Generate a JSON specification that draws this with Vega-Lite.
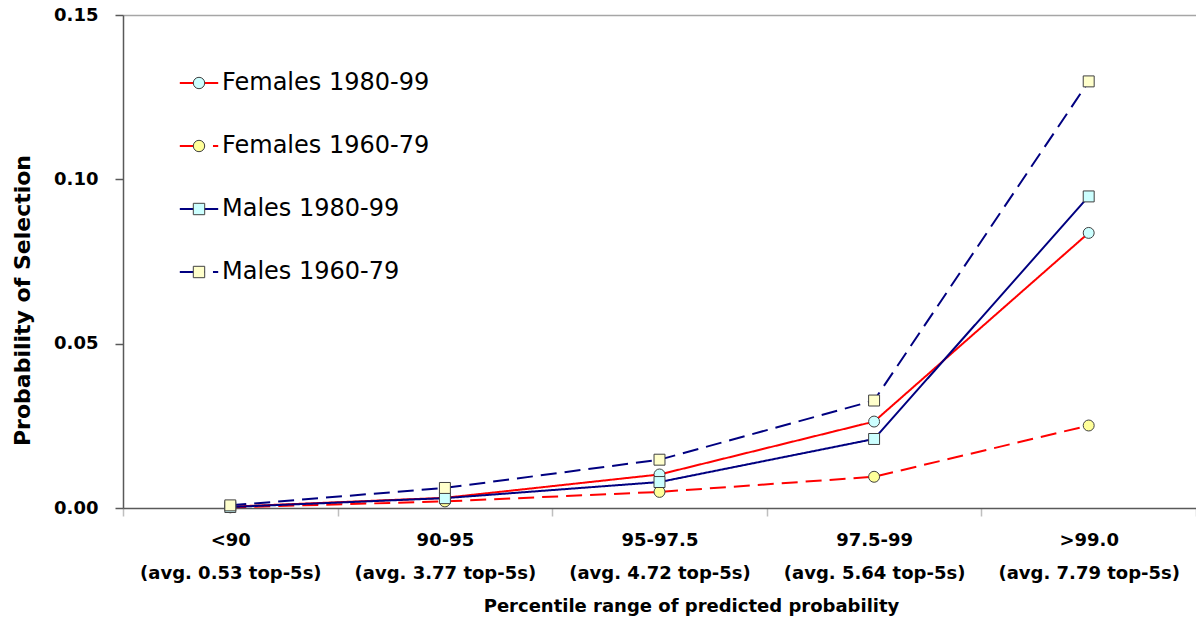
{
  "$schema": "https://vega.github.io/schema/vega-lite/v6.json",
  "autosize": {"type": "none"},
  "padding": {"left": 123, "top": 15, "right": 0, "bottom": 117},
  "width": 1073,
  "height": 493,
  "background": "white",
  "config": {"view": {"stroke": null}, "font": "DejaVu Sans"},
  "data": {
    "values": [
      {"range": "<90|(avg. 0.53 top-5s)", "series": "Females 1980-99", "p": 0.0004},
      {"range": "90-95|(avg. 3.77 top-5s)", "series": "Females 1980-99", "p": 0.0031},
      {"range": "95-97.5|(avg. 4.72 top-5s)", "series": "Females 1980-99", "p": 0.0102},
      {"range": "97.5-99|(avg. 5.64 top-5s)", "series": "Females 1980-99", "p": 0.0263},
      {"range": ">99.0|(avg. 7.79 top-5s)", "series": "Females 1980-99", "p": 0.0837},
      {"range": "<90|(avg. 0.53 top-5s)", "series": "Females 1960-79", "p": 0.0002},
      {"range": "90-95|(avg. 3.77 top-5s)", "series": "Females 1960-79", "p": 0.002},
      {"range": "95-97.5|(avg. 4.72 top-5s)", "series": "Females 1960-79", "p": 0.0049},
      {"range": "97.5-99|(avg. 5.64 top-5s)", "series": "Females 1960-79", "p": 0.0095},
      {"range": ">99.0|(avg. 7.79 top-5s)", "series": "Females 1960-79", "p": 0.0251},
      {"range": "<90|(avg. 0.53 top-5s)", "series": "Males 1980-99", "p": 0.0003},
      {"range": "90-95|(avg. 3.77 top-5s)", "series": "Males 1980-99", "p": 0.003},
      {"range": "95-97.5|(avg. 4.72 top-5s)", "series": "Males 1980-99", "p": 0.0079},
      {"range": "97.5-99|(avg. 5.64 top-5s)", "series": "Males 1980-99", "p": 0.021},
      {"range": ">99.0|(avg. 7.79 top-5s)", "series": "Males 1980-99", "p": 0.0948},
      {"range": "<90|(avg. 0.53 top-5s)", "series": "Males 1960-79", "p": 0.0008},
      {"range": "90-95|(avg. 3.77 top-5s)", "series": "Males 1960-79", "p": 0.0061},
      {"range": "95-97.5|(avg. 4.72 top-5s)", "series": "Males 1960-79", "p": 0.0147},
      {"range": "97.5-99|(avg. 5.64 top-5s)", "series": "Males 1960-79", "p": 0.0327},
      {"range": ">99.0|(avg. 7.79 top-5s)", "series": "Males 1960-79", "p": 0.1298}
    ]
  },
  "encoding": {
    "x": {
      "field": "range",
      "type": "nominal",
      "scale": {
        "type": "band",
        "paddingInner": 0,
        "paddingOuter": 0,
        "domain": ["<90|(avg. 0.53 top-5s)", "90-95|(avg. 3.77 top-5s)", "95-97.5|(avg. 4.72 top-5s)", "97.5-99|(avg. 5.64 top-5s)", ">99.0|(avg. 7.79 top-5s)"]
      },
      "axis": {
        "orient": "bottom",
        "tickBand": "extent",
        "tickSize": 8,
        "tickColor": "#BFBFBF",
        "tickWidth": 1.5,
        "domainColor": "#595959",
        "domainWidth": 1.5,
        "labelAngle": 0,
        "labelLimit": 0,
        "labelExpr": "split(datum.label, '|')",
        "labelFont": "DejaVu Sans",
        "labelFontWeight": "bold",
        "labelFontSize": 18,
        "labelColor": "#000000",
        "labelLineHeight": 33,
        "labelPadding": 15,
        "title": "Percentile range of predicted probability",
        "titleFont": "DejaVu Sans",
        "titleFontWeight": "bold",
        "titleFontSize": 18,
        "titleColor": "#000000",
        "titleX": 568,
        "titleY": 98,
        "titleBaseline": "middle",
        "titleAlign": "center"
      }
    },
    "y": {
      "field": "p",
      "type": "quantitative",
      "scale": {"domain": [0, 0.15], "nice": false, "zero": true},
      "axis": {
        "values": [0, 0.05, 0.1, 0.15],
        "format": ".2f",
        "tickSize": 8,
        "tickColor": "#595959",
        "tickWidth": 1.5,
        "domainColor": "#595959",
        "domainWidth": 1.5,
        "grid": true,
        "gridColor": "#A6A6A6",
        "gridWidth": 1.5,
        "gridOpacity": {"condition": {"test": "datum.value > 0.14", "value": 1}, "value": 0},
        "labelFont": "DejaVu Sans",
        "labelFontWeight": "bold",
        "labelFontSize": 18,
        "labelColor": "#000000",
        "labelPadding": 17,
        "title": "Probability of Selection",
        "titleFont": "DejaVu Sans",
        "titleFontWeight": "bold",
        "titleFontSize": 22,
        "titleColor": "#000000",
        "titleX": -101,
        "titleY": 285,
        "titleAngle": -90,
        "titleBaseline": "middle",
        "titleAlign": "center"
      }
    }
  },
  "layer": [
    {
      "mark": {"type": "line", "strokeWidth": 2},
      "encoding": {
        "stroke": {
          "field": "series",
          "type": "nominal",
          "scale": {
            "domain": ["Females 1980-99", "Females 1960-79", "Males 1980-99", "Males 1960-79"],
            "range": ["#FF0000", "#FF0000", "#000080", "#000080"]
          },
          "legend": {
            "orient": "none",
            "zindex": 1,
            "legendX": 64,
            "legendY": 56,
            "title": null,
            "symbolType": "M-3.2,0H-1.67M-1.67,0H3.2",
            "symbolSize": 144,
            "symbolStrokeWidth": 2,
            "labelFont": "DejaVu Sans",
            "labelFontSize": 24,
            "labelColor": "#000000",
            "labelLimit": 0,
            "labelOffset": 11,
            "rowPadding": 39,
            "padding": 0
          }
        },
        "strokeDash": {
          "field": "series",
          "type": "nominal",
          "scale": {
            "domain": ["Females 1980-99", "Females 1960-79", "Males 1980-99", "Males 1960-79"],
            "range": [[1, 0], [16, 8], [1, 0], [16, 8]]
          },
          "legend": {
            "orient": "none",
            "zindex": 1,
            "legendX": 64,
            "legendY": 56,
            "title": null,
            "symbolType": "M-3.2,0H-1.67M-1.67,0H3.2",
            "symbolSize": 144,
            "symbolStrokeWidth": 2,
            "labelFont": "DejaVu Sans",
            "labelFontSize": 24,
            "labelColor": "#000000",
            "labelLimit": 0,
            "labelOffset": 11,
            "rowPadding": 39,
            "padding": 0
          }
        }
      }
    },
    {
      "mark": {"type": "point", "filled": true, "stroke": "#404040", "strokeWidth": 1, "size": 120, "opacity": 1},
      "encoding": {
        "fill": {
          "field": "series",
          "type": "nominal",
          "scale": {
            "domain": ["Females 1980-99", "Females 1960-79", "Males 1980-99", "Males 1960-79"],
            "range": ["#CCFFFF", "#FFFF99", "#CCFFFF", "#FFFFCC"]
          },
          "legend": {
            "orient": "none",
            "zindex": 3,
            "legendX": 64,
            "legendY": 56,
            "title": null,
            "symbolSize": 144,
            "symbolStrokeWidth": 1,
            "symbolStrokeColor": "#404040",
            "symbolOpacity": 1,
            "labelFont": "DejaVu Sans",
            "labelFontSize": 24,
            "labelOpacity": 0,
            "labelLimit": 0,
            "labelOffset": 11,
            "rowPadding": 39,
            "padding": 0,
            "encode": {
              "symbols": {
                "update": {
                  "stroke": {"value": "#404040"},
                  "strokeWidth": {"value": 1},
                  "size": {"value": 130},
                  "opacity": {"value": 1}
                }
              }
            }
          }
        },
        "shape": {
          "field": "series",
          "type": "nominal",
          "scale": {
            "domain": ["Females 1980-99", "Females 1960-79", "Males 1980-99", "Males 1960-79"],
            "range": ["circle", "circle", "square", "square"]
          },
          "legend": {
            "orient": "none",
            "zindex": 3,
            "legendX": 64,
            "legendY": 56,
            "title": null,
            "symbolSize": 144,
            "symbolStrokeWidth": 1,
            "symbolStrokeColor": "#404040",
            "symbolOpacity": 1,
            "labelFont": "DejaVu Sans",
            "labelFontSize": 24,
            "labelOpacity": 0,
            "labelLimit": 0,
            "labelOffset": 11,
            "rowPadding": 39,
            "padding": 0,
            "encode": {
              "symbols": {
                "update": {
                  "stroke": {"value": "#404040"},
                  "strokeWidth": {"value": 1},
                  "size": {"value": 130},
                  "opacity": {"value": 1}
                }
              }
            }
          }
        }
      }
    }
  ],
  "resolve": {
    "legend": {"stroke": "independent", "strokeDash": "independent", "fill": "independent", "shape": "independent"}
  }
}
